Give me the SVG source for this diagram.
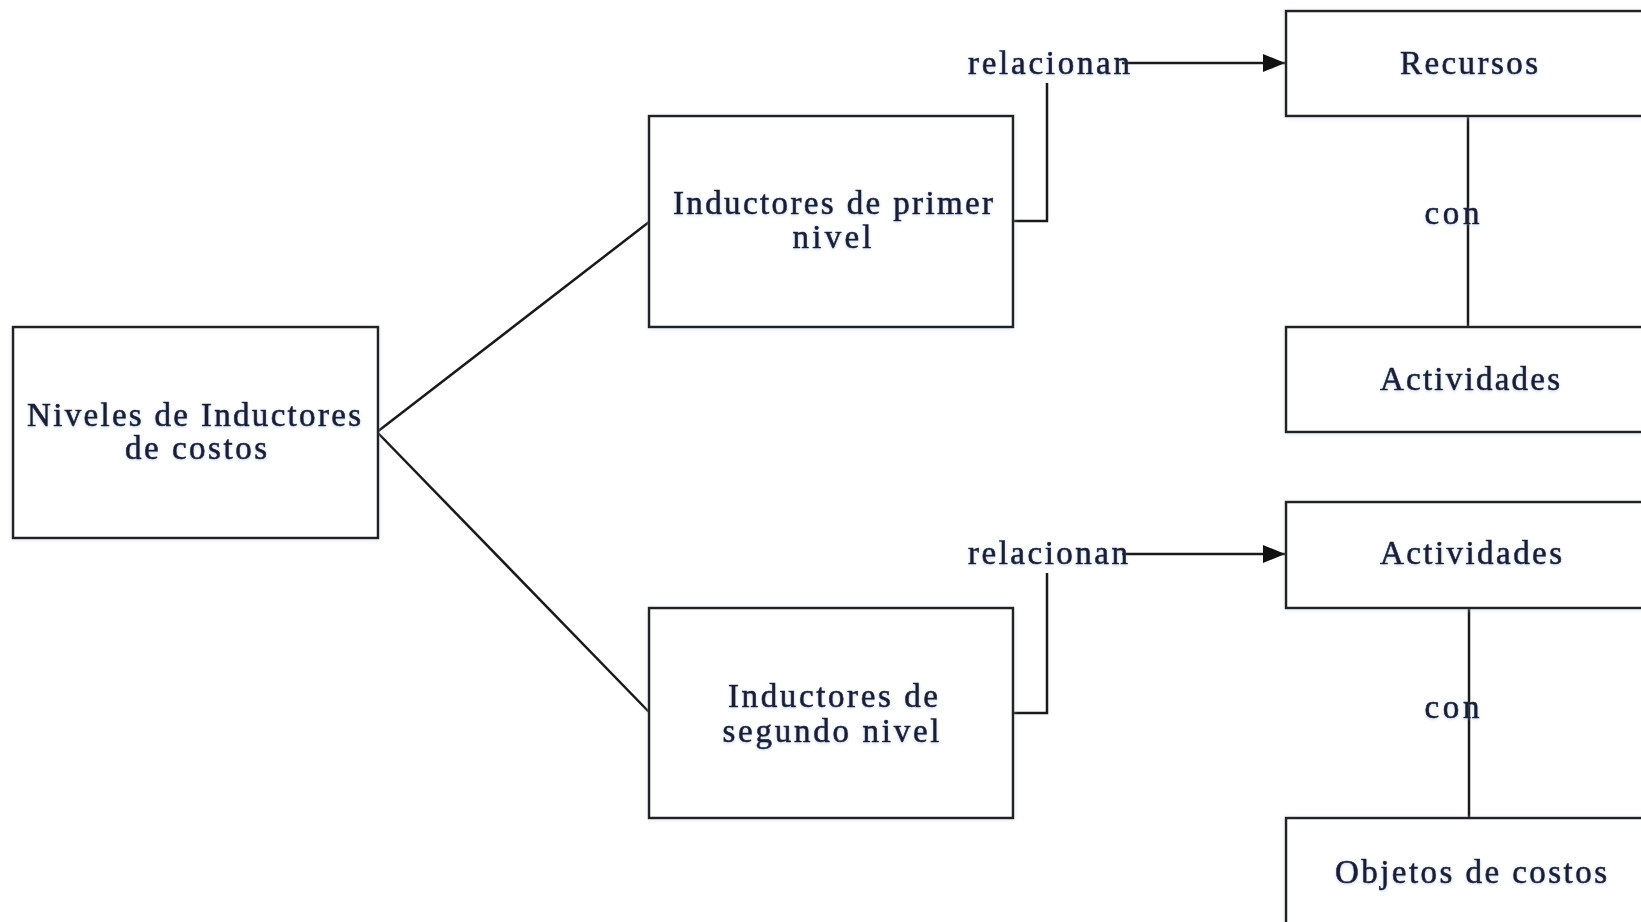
<svg xmlns="http://www.w3.org/2000/svg" width="1641" height="922" viewBox="0 0 1641 922">
  <defs>
    <filter id="soft" x="-5%" y="-5%" width="110%" height="110%">
      <feDropShadow dx="0" dy="1" stdDeviation="2" flood-color="#b9cdea" flood-opacity="0.45"/>
    </filter>
    <filter id="halo" x="-5%" y="-20%" width="110%" height="140%">
      <feDropShadow dx="0" dy="1" stdDeviation="1.5" flood-color="#7fa6d8" flood-opacity="0.45"/>
    </filter>
    <marker id="arrow" markerUnits="userSpaceOnUse" markerWidth="22" markerHeight="18" refX="22" refY="9" orient="auto">
      <path d="M0,0 L22,9 L0,18 Z" fill="#111"/>
    </marker>
    <style>
      .box { fill: #ffffff; stroke: #222; stroke-width: 2.5; filter: url(#soft); }
      .lbl { font-family: "Liberation Serif", "Times New Roman", serif; font-size: 33px; fill: #1b1b30; stroke: #1b1b30; stroke-width: 0.6; text-anchor: middle; filter: url(#halo); }
      .wire { fill: none; stroke: #1a1a1a; stroke-width: 2.5; }
    </style>
  </defs>
  <rect width="1641" height="922" fill="#ffffff"/>

  <!-- connectors -->
  <g id="connectors">
    <path class="wire" d="M377,432 L649,222"/>
    <path class="wire" d="M377,432 L649,712"/>
    <path class="wire" d="M1013,221 H1047 V83"/>
    <path class="wire" d="M1122,63 H1285" marker-end="url(#arrow)"/>
    <path class="wire" d="M1013,713 H1047 V573"/>
    <path class="wire" d="M1122,554 H1285" marker-end="url(#arrow)"/>
    <path class="wire" d="M1468,116 V327"/>
    <path class="wire" d="M1469,608 V818"/>
    <text class="lbl" x="1049" y="74" textLength="162" lengthAdjust="spacing">relacionan</text>
    <text class="lbl" x="1048" y="564" textLength="160" lengthAdjust="spacing">relacionan</text>
    <text class="lbl" x="1452" y="224" textLength="55" lengthAdjust="spacing">con</text>
    <text class="lbl" x="1452" y="718" textLength="55" lengthAdjust="spacing">con</text>
  </g>

  <g id="niveles">
    <rect class="box" x="13" y="327" width="365" height="211"/>
    <text class="lbl" x="194" y="426" textLength="334" lengthAdjust="spacing">Niveles de Inductores</text>
    <text class="lbl" x="196" y="459" textLength="142" lengthAdjust="spacing">de costos</text>
  </g>

  <g id="primer-nivel">
    <rect class="box" x="649" y="116" width="364" height="211"/>
    <text class="lbl" x="833" y="214" textLength="320" lengthAdjust="spacing">Inductores de primer</text>
    <text class="lbl" x="832" y="248" textLength="79" lengthAdjust="spacing">nivel</text>
  </g>

  <g id="segundo-nivel">
    <rect class="box" x="649" y="608" width="364" height="210"/>
    <text class="lbl" x="833" y="707" textLength="210" lengthAdjust="spacing">Inductores de</text>
    <text class="lbl" x="831" y="742" textLength="217" lengthAdjust="spacing">segundo nivel</text>
  </g>

  <g id="recursos">
    <rect class="box" x="1286" y="11" width="380" height="105"/>
    <text class="lbl" x="1469" y="74" textLength="138" lengthAdjust="spacing">Recursos</text>
  </g>

  <g id="actividades-1">
    <rect class="box" x="1286" y="327" width="380" height="105"/>
    <text class="lbl" x="1470" y="390" textLength="180" lengthAdjust="spacing">Actividades</text>
  </g>

  <g id="actividades-2">
    <rect class="box" x="1286" y="502" width="380" height="106"/>
    <text class="lbl" x="1471" y="564" textLength="182" lengthAdjust="spacing">Actividades</text>
  </g>

  <g id="objetos">
    <rect class="box" x="1286" y="818" width="380" height="130"/>
    <text class="lbl" x="1471" y="883" textLength="272" lengthAdjust="spacing">Objetos de costos</text>
  </g>
</svg>
